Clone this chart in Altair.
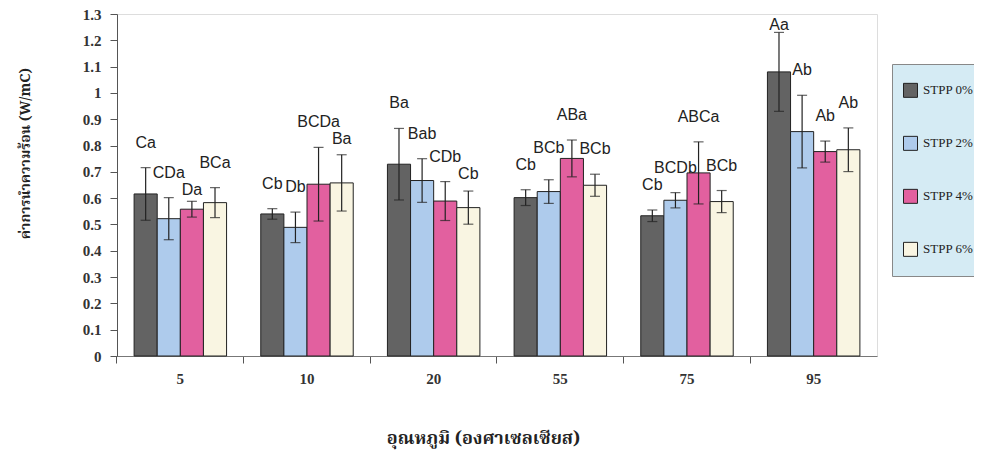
import altair as alt
import pandas as pd

temps = ["5", "10", "20", "55", "75", "95"]
series = ["STPP 0%", "STPP 2%", "STPP 4%", "STPP 6%"]

mean_0 = [0.616, 0.540, 0.729, 0.602, 0.533, 1.080]
mean_2 = [0.522, 0.489, 0.667, 0.625, 0.592, 0.853]
mean_4 = [0.558, 0.653, 0.589, 0.751, 0.696, 0.777]
mean_6 = [0.583, 0.658, 0.564, 0.649, 0.587, 0.784]

err_0 = [0.100, 0.020, 0.136, 0.030, 0.022, 0.150]
err_2 = [0.080, 0.058, 0.083, 0.045, 0.029, 0.138]
err_4 = [0.030, 0.140, 0.074, 0.070, 0.118, 0.040]
err_6 = [0.057, 0.107, 0.063, 0.042, 0.042, 0.083]

lab_0 = ["Ca", "Cb", "Ba", "Cb", "Cb", "Aa"]
lab_2 = ["CDa", "Db", "Bab", "BCb", "BCDb", "Ab"]
lab_4 = ["Da", "BCDa", "CDb", "ABa", "ABCa", "Ab"]
lab_6 = ["BCa", "Ba", "Cb", "BCb", "BCb", "Ab"]

y_ticks = [round(i * 0.1, 1) for i in range(14)]
colors = ["#636363", "#aecbec", "#e2609f", "#f9f5e2"]

# layout constants (pixels)
W, H = 760, 342
YMAX = 1.3
px_per_unit = H / YMAX
slot = W / 6 * 0.73 / 4          # width of one bar
label_font = 16
GAP = 25       # label centre above error-bar top
STEP = 17      # vertical separation of colliding labels
MIN_GAP = 10


def text_width(s):
    return sum(11.3 if c.isupper() else 8.9 for c in s)


rows = []
for s, m, e, l in zip(series, [mean_0, mean_2, mean_4, mean_6],
                      [err_0, err_2, err_4, err_6],
                      [lab_0, lab_2, lab_4, lab_6]):
    for t, mv, ev, lv in zip(temps, m, e, l):
        rows.append({"temp": t, "series": s, "mean": mv,
                     "lo": mv - ev, "hi": mv + ev, "label": lv})
df = pd.DataFrame(rows)


def conflicts(k, ypx, w, placed):
    return [p for p in placed
            if abs(k - p[0]) * slot < (w + p[2]) / 2 + 1 and abs(ypx - p[1]) < STEP]


# label placement: above the error bar, shifted when it would collide
label_y = {}
for t in temps:
    placed = []
    for k, s in enumerate(series):
        r = df[(df.temp == t) & (df.series == s)].iloc[0]
        hi_px = r.hi * px_per_unit
        ypx = hi_px + GAP
        w = text_width(r.label)
        c = conflicts(k, ypx, w, placed)
        if c:
            y2 = c[0][1]
            down = y2 - STEP
            if down >= hi_px + MIN_GAP and not conflicts(k, down, w, placed):
                ypx = down
            else:
                ypx = y2 + STEP
                while conflicts(k, ypx, w, placed):
                    ypx += STEP
        ypx = min(ypx, H - 11)
        placed.append((k, ypx, w))
        label_y[(t, s)] = ypx / px_per_unit
df["label_y"] = [label_y[(t, s)] for t, s in zip(df.temp, df.series)]

serif = "Liberation Serif"
thai = "Noto Serif Thai, Noto Sans Thai, Loma, Garuda, Norasi, Liberation Serif, serif"

x_axis = alt.Axis(title="อุณหภูมิ (องศาเซลเซียส)", labelAngle=0,
                  labelFont=serif, labelFontWeight="bold", labelFontSize=15,
                  labelColor="#333", labelPadding=8,
                  titleFont=thai, titleFontSize=18, titleFontWeight="bold",
                  titleColor="#222", titleX=366, titleY=82,
                  titleAlign="center", titleBaseline="middle",
                  bandPosition=-0.185, tickSize=7, tickColor="#555",
                  domainColor="#777")
y_axis = alt.Axis(title="ค่าการนำความร้อน (W/mC)", values=y_ticks,
                  format=".1~f", grid=False, labelOverlap=False,
                  labelFont=serif, labelFontWeight="bold", labelFontSize=15,
                  labelColor="#333", labelPadding=9, tickSize=7, tickColor="#555",
                  domainColor="#555",
                  titleFont=thai, titleFontSize=14, titleFontWeight="bold",
                  titleColor="#222", titleX=-92, titleY=139,
                  titleAlign="center", titleBaseline="middle")
x_scale = alt.Scale(paddingInner=0.27, paddingOuter=0.135)
y_scale = alt.Scale(domain=[0, YMAX], nice=False)


def X():
    return alt.X("temp:N", sort=temps, scale=x_scale, axis=x_axis)


def Y(field):
    return alt.Y(field, scale=y_scale, axis=y_axis)


xo = alt.XOffset("series:N", sort=series, scale=alt.Scale(paddingInner=0, paddingOuter=0))

bars = alt.Chart(df).mark_bar(stroke="#222", strokeWidth=1).encode(
    x=X(), xOffset=xo, y=Y("mean:Q"),
    color=alt.Color("series:N", sort=series,
                    scale=alt.Scale(domain=series, range=colors),
                    legend=alt.Legend(title=None, orient="none", legendX=775, legendY=50,
                                      symbolType="square", symbolSize=196,
                                      symbolStrokeColor="#222", symbolStrokeWidth=1,
                                      symbolOffset=11,
                                      labelFont=serif, labelFontSize=13, labelColor="#222",
                                      labelOffset=5, clipHeight=52.7, rowPadding=0,
                                      padding=0,
                                      fillColor="#d5ebf4", strokeColor="#888")),
)

rule = alt.Chart(df).mark_rule(color="#222", strokeWidth=1.2).encode(
    x=X(), xOffset=xo, y=Y("lo:Q"), y2="hi:Q")

caps_hi = alt.Chart(df).mark_tick(color="#222", size=10, thickness=1.2,
                                  orient="horizontal").encode(
    x=X(), xOffset=xo, y=Y("hi:Q"))
caps_lo = alt.Chart(df).mark_tick(color="#222", size=10, thickness=1.2,
                                  orient="horizontal").encode(
    x=X(), xOffset=xo, y=Y("lo:Q"))

text = alt.Chart(df).mark_text(font="Liberation Sans", fontSize=label_font, color="#222",
                               baseline="middle").encode(
    x=X(), xOffset=xo, y=Y("label_y:Q"), text="label:N")

chart = alt.layer(bars, rule, caps_hi, caps_lo, text).properties(
    width=W, height=H,
    autosize=alt.AutoSizeParams(type="none"),
    padding={"left": 109, "top": 6, "right": 97, "bottom": 99},
).configure_view(stroke="#999", strokeDash=[1, 2]).configure(background="white")

chart.save("out.html", embed_options={"renderer": "svg", "actions": False})
